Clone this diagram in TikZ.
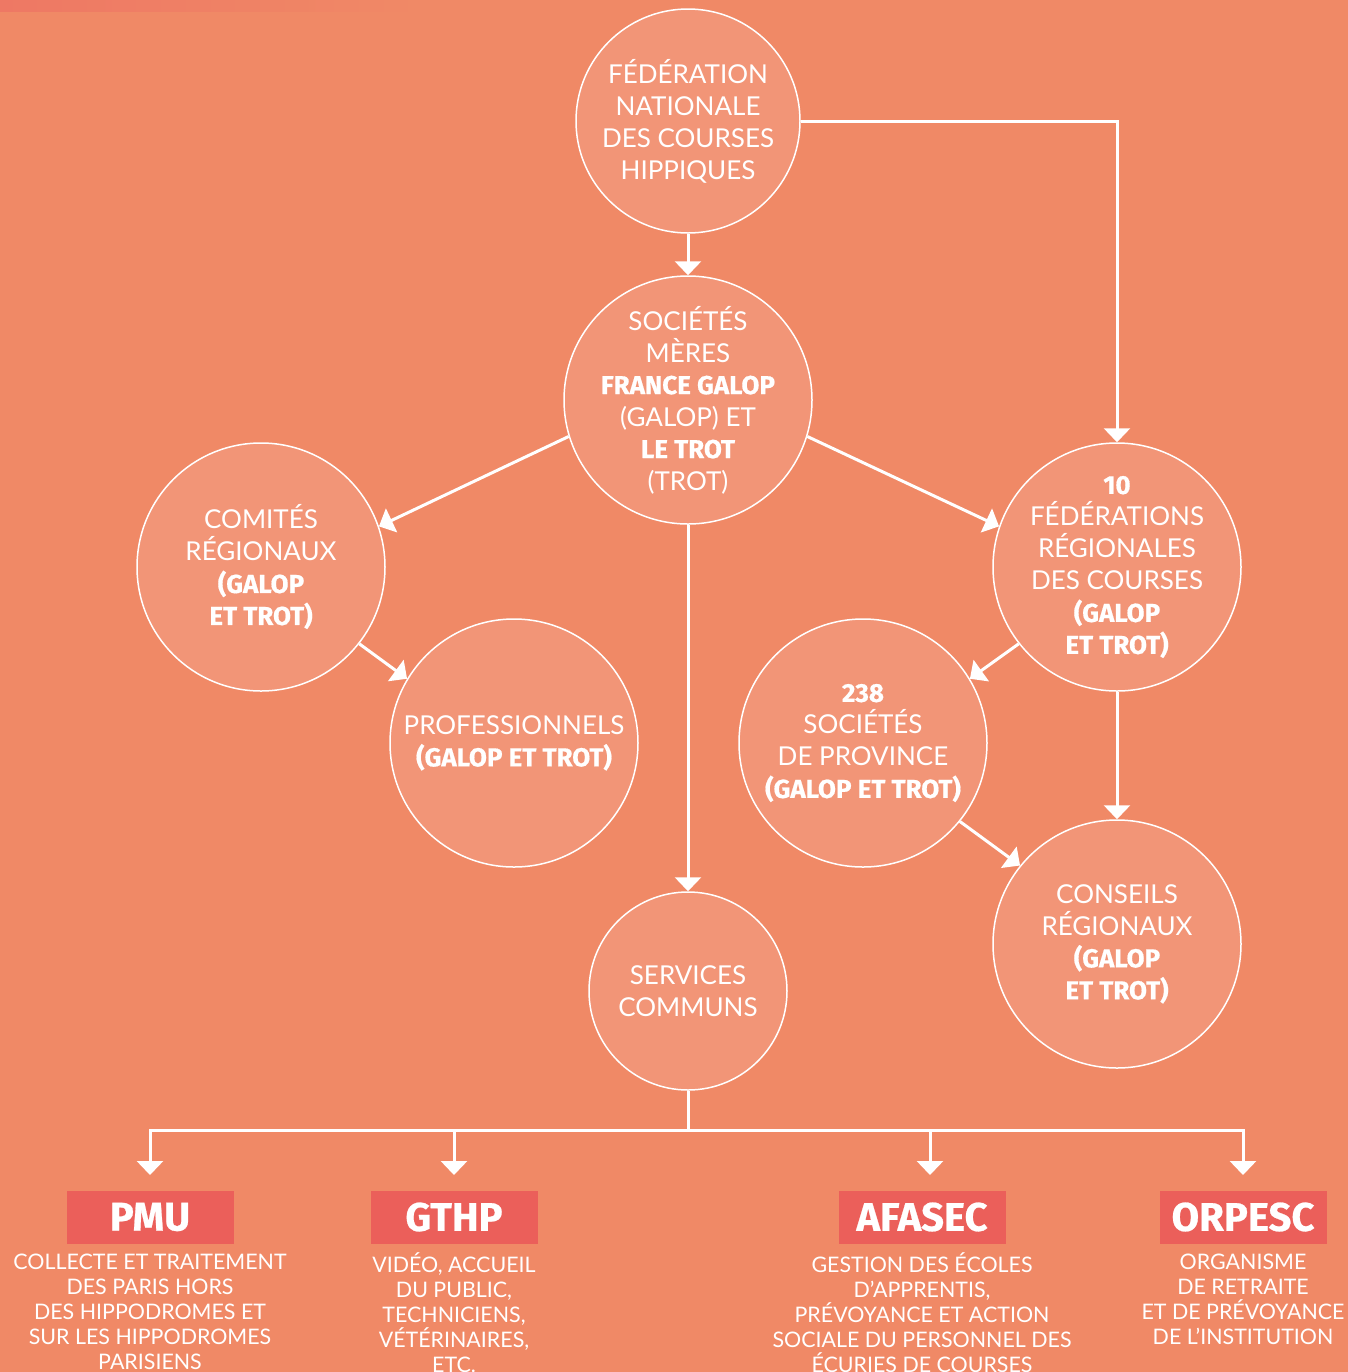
\documentclass[tikz,border=0pt]{standalone}
\usepackage{fontspec}
\setmainfont{Lato}
\newfontfamily\hbfont{Fira Sans}[BoldFeatures={FakeBold=0.6}]
\usepackage{tikz}
\usetikzlibrary{arrows.meta,positioning}

\definecolor{bg}{HTML}{F08966}
\definecolor{strip}{HTML}{EE7864}
\definecolor{disc}{HTML}{F29577}
\definecolor{tag}{HTML}{EB5F5A}

\newcommand{\bx}[1]{{\hbfont\bfseries #1}}

\tikzset{
  org/.style={circle, draw=white, line width=0.75pt, fill=disc,
    inner sep=0pt, minimum size=124pt},
  orgtxt/.style={text=white, align=center, inner sep=0pt,
    font=\fontsize{13}{16}\selectfont},
  arr/.style={draw=white, line width=1.5pt, -{Triangle[width=13pt,length=7pt]}},
  line/.style={draw=white, line width=1.5pt},
  tagbox/.style={fill=tag, text=white, inner sep=0pt, minimum width=83.5pt,
    minimum height=26.5pt, font=\hbfont\bfseries\fontsize{20}{21}\selectfont},
  desc/.style={text=white, align=center, anchor=north, inner sep=0pt,
    font=\fontsize{10.7}{12.5}\selectfont}
}

\begin{document}
\begin{tikzpicture}[x=0.5pt, y=-0.5pt]
        \useasboundingbox (0,0) rectangle (1348,1372);
        \fill[bg] (0,0) rectangle (1348,1372);
        \shade[left color=strip, right color=bg] (0,0) rectangle (420,11);

        % circles
        \node[org, minimum size=112pt, label={[orgtxt]center:{FÉDÉRATION\\NATIONALE\\DES COURSES\\HIPPIQUES}}] (fnch) at (688,121) {};
        \node[org, label={[orgtxt]center:{SOCIÉTÉS\\MÈRES\\\bx{FRANCE GALOP}\\(GALOP) ET\\\bx{LE TROT}\\(TROT)}}] (meres) at (688,400) {};
        \node[org, label={[orgtxt]center:{COMITÉS\\RÉGIONAUX\\\bx{(GALOP}\\\bx{ET TROT)}}}] (comites) at (261,567) {};
        \node[org, label={[orgtxt]center:{PROFESSIONNELS\\\bx{(GALOP ET TROT)}}}] (pros) at (514,743) {};
        \node[org, label={[orgtxt]center:{\bx{10}\\FÉDÉRATIONS\\RÉGIONALES\\DES COURSES\\\bx{(GALOP}\\\bx{ET TROT)}}}] (fed) at (1117,567) {};
        \node[org, label={[orgtxt]center:{\bx{238}\\SOCIÉTÉS\\DE PROVINCE\\\bx{(GALOP ET TROT)}}}] (prov) at (863,743) {};
        \node[org, label={[orgtxt]center:{CONSEILS\\RÉGIONAUX\\\bx{(GALOP}\\\bx{ET TROT)}}}] (conseils) at (1117,944) {};
        \node[org, minimum size=99pt, label={[orgtxt]center:{SERVICES\\COMMUNS}}] (services) at (688,991) {};

        % links
        \draw[arr] (fnch) -- (meres);
        \draw[arr] (fnch.east) -| (fed.north);
        \draw[arr] (meres.197) -- (comites.19);
        \draw[arr] (meres.343) -- (fed.161);
        \draw[arr] (meres) -- (services);
        \draw[arr] (comites.322) -- (pros.149);
        \draw[arr] (fed.218) -- (prov.31);
        \draw[arr] (fed) -- (conseils);
        \draw[arr] (prov.321) -- (conseils.141);

        % bottom
        \node[tagbox] (pmu) at (150,1217) {PMU};
        \node[tagbox] (gthp) at (454,1217) {GTHP};
        \node[tagbox] (afasec) at (922,1217) {AFASEC};
        \node[tagbox] (orpesc) at (1243,1217) {ORPESC};

        \node[desc] (pmutxt) at (150,1252) {\strut COLLECTE ET TRAITEMENT\\DES PARIS HORS\\DES HIPPODROMES ET\\SUR LES HIPPODROMES\\PARISIENS};
        \node[desc] (gthptxt) at (454,1252) {\strut VIDÉO, ACCUEIL\\DU PUBLIC,\\TECHNICIENS,\\VÉTÉRINAIRES,\\ETC.};
        \node[desc] (afasectxt) at (922,1252) {\strut GESTION DES ÉCOLES\\D'APPRENTIS,\\PRÉVOYANCE ET ACTION\\SOCIALE DU PERSONNEL DES\\ÉCURIES DE COURSES};
        \node[desc] (orpesctxt) at (1243,1252) {\strut ORGANISME\\DE RETRAITE\\ET DE PRÉVOYANCE\\DE L'INSTITUTION};

        \coordinate (hub) at (688,1130);
        \draw[line] (services) -- (hub);
        \foreach \n/\x in {pmu/150, gthp/454, afasec/930, orpesc/1243} {
          \coordinate (d\n) at (\x,1175);
          \draw[arr] (hub) -| (d\n);
        }
\end{tikzpicture}
\end{document}
